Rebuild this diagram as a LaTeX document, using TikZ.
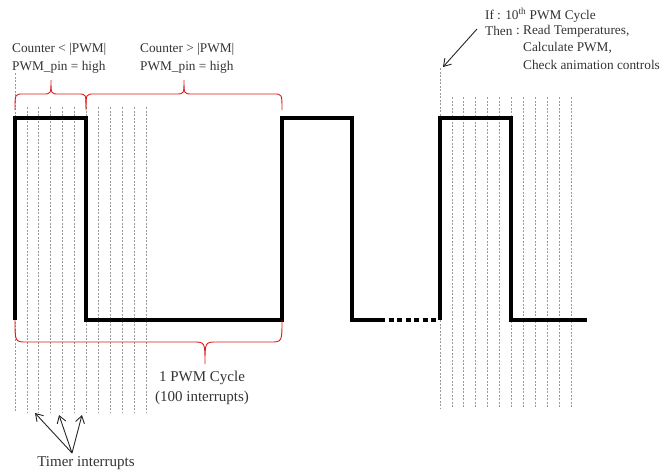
\documentclass[tikz,border=0pt]{standalone}
\usepackage{fontspec}
\setmainfont{Liberation Serif}
\usetikzlibrary{arrows.meta}
\begin{document}
\begin{tikzpicture}[x=1pt,y=-1pt,
  gridline/.style={draw=black!40, line width=0.8pt, dash pattern=on 2pt off 1.5pt},
  wave/.style={line width=3.8pt, line join=miter},
  wavedot/.style={line width=3.8pt, dash pattern=on 5pt off 3.5pt},
  brace/.style={draw=red!85!black!90, line width=0.9pt},
  lbl/.style={font=\fontsize{13.3}{15}\selectfont, text=black!80, inner sep=0pt, anchor=west},
  big/.style={font=\fontsize{15}{17}\selectfont, text=black!80, inner sep=0pt},
  arr/.style={-{Straight Barb[length=7pt,width=9pt]}, line width=0.9pt, draw=black!85}
]
\useasboundingbox (0,0) rectangle (662,474);
% timer interrupt grid, left group
\draw[gridline] (15,73) -- (15,412);
\foreach \i in {1,...,11} {
  \draw[gridline] ({15+\i*11.9},107) -- ({15+\i*11.9},412);
}
% right group
\draw[gridline] (440,68) -- (440,408);
\foreach \i in {1,...,11} {
  \draw[gridline] ({440+\i*11.9},97) -- ({440+\i*11.9},408);
}
% PWM waveform
\draw[wave] (15,320) -- (15,118) -- (86,118) -- (86,320) -- (282,320) -- (282,118) -- (352,118) -- (352,320) -- (380,320);
\draw[wavedot] (380,320) -- (438,320);
\draw[wave] (440,320) -- (440,118) -- (511,118) -- (511,320) -- (587,320);
% braces
\draw[brace] (15,110) .. controls (15,94) .. (23,94) -- (43,94) .. controls (51,94) .. (51,80) .. controls (51,94) .. (59,94) -- (78,94) .. controls (86,94) .. (86,108);
\draw[brace] (86,110) .. controls (86,94) .. (94,94) -- (176,94) .. controls (184,94) .. (184,80) .. controls (184,94) .. (192,94) -- (274,94) .. controls (282,94) .. (282,110);
\draw[brace] (15,320) .. controls (15,342) .. (27,342) -- (193,342) .. controls (205,342) .. (205,364) .. controls (205,342) .. (217,342) -- (270,342) .. controls (282,342) .. (282,320);
% labels
\node[lbl] (c1) at (12,49) {Counter < |PWM|};
\node[lbl] (p1) at (12,67) {PWM\_pin = high};
\node[lbl] (c2) at (140,49) {Counter > |PWM|};
\node[lbl] (p2) at (140,67) {PWM\_pin = high};
\node[big] (cyc) at (202,378) {1 PWM Cycle};
\node[big] (intr) at (202,398) {(100 interrupts)};
\node[big] (timer) at (86,463) {Timer interrupts};
\node[lbl] (if) at (485,15) {If};
\node[lbl] (ifc) at (497,15) {: 10\textsuperscript{th} PWM Cycle};
\node[lbl] (then) at (485,31) {Then};
\node[lbl] (thenc) at (516,31) {:};
\node[lbl] (r1) at (523,31) {Read Temperatures,};
\node[lbl] (r2) at (523,48) {Calculate PWM,};
\node[lbl] (r3) at (523,65) {Check animation controls};
% arrows
\coordinate (atail) at (477,29);
\coordinate (ahead) at (443,67);
\draw[arr] (atail) -- (ahead);
\coordinate (tb) at (72,453);
\coordinate (t1) at (35,413);
\coordinate (t2) at (59,415);
\coordinate (t3) at (82,415);
\draw[arr] (tb) -- (t1);
\draw[arr] (tb) -- (t2);
\draw[arr] (tb) -- (t3);
\end{tikzpicture}
\end{document}
